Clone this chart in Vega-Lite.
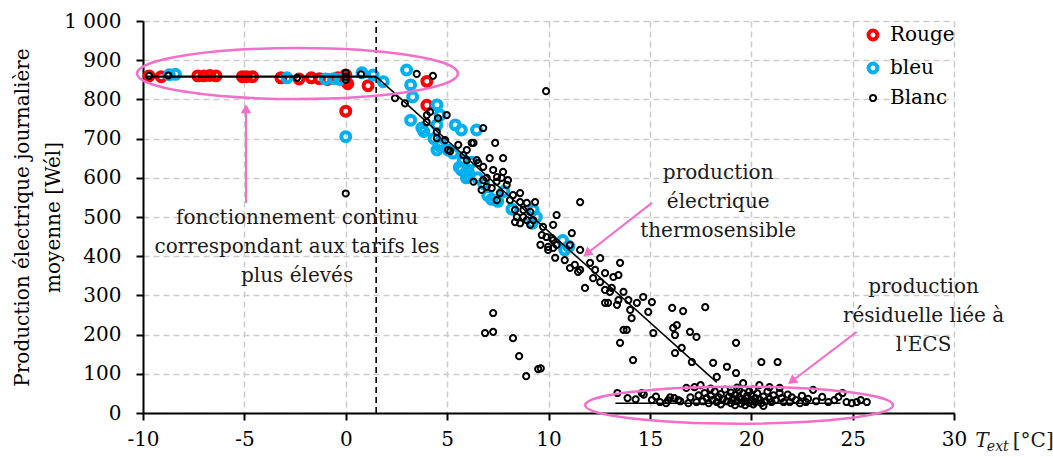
{
  "$schema": "https://vega.github.io/schema/vega-lite/v6.json",
  "width": 811,
  "height": 392,
  "autosize": {"type": "none"},
  "padding": {"left": 143, "top": 21, "right": 99, "bottom": 44},
  "background": "white",
  "config": {
    "view": {"stroke": null},
    "font": "DejaVu Serif",
    "axis": {
      "domainColor": "black", "domainWidth": 2,
      "tickColor": "black", "tickWidth": 2, "tickSize": 7,
      "gridColor": "#cccccc", "gridDash": [6, 4], "gridWidth": 1.5,
      "labelFont": "DejaVu Serif", "labelFontSize": 20, "labelColor": "black",
      "titleFont": "DejaVu Serif", "titleFontSize": 20, "titleFontWeight": "normal", "titleColor": "black",
      "labelPadding": 6, "labelOverlap": false, "labelFlush": false
    },
    "legend": {
      "orient": "none", "legendX": 720, "legendY": 4, "padding": 0,
      "labelFont": "DejaVu Serif", "labelFontSize": 20, "labelColor": "black",
      "rowPadding": 7, "labelOffset": 7, "symbolType": "circle"
    }
  },
  "datasets": {
    "pts": [
      {"serie": "Rouge", "t": -9.7, "p": 860}, {"serie": "Rouge", "t": -9.1, "p": 858},
      {"serie": "Rouge", "t": -7.3, "p": 860}, {"serie": "Rouge", "t": -7.0, "p": 860},
      {"serie": "Rouge", "t": -6.7, "p": 861}, {"serie": "Rouge", "t": -6.4, "p": 860},
      {"serie": "Rouge", "t": -5.1, "p": 858}, {"serie": "Rouge", "t": -4.9, "p": 858},
      {"serie": "Rouge", "t": -4.6, "p": 858}, {"serie": "Rouge", "t": -3.2, "p": 855},
      {"serie": "Rouge", "t": -2.3, "p": 852}, {"serie": "Rouge", "t": -1.7, "p": 855},
      {"serie": "Rouge", "t": -1.3, "p": 853}, {"serie": "Rouge", "t": -0.9, "p": 851},
      {"serie": "Rouge", "t": -0.4, "p": 855}, {"serie": "Rouge", "t": 0, "p": 862},
      {"serie": "Rouge", "t": 0, "p": 848}, {"serie": "Rouge", "t": 0.1, "p": 840},
      {"serie": "Rouge", "t": 1.1, "p": 835}, {"serie": "Rouge", "t": 4.0, "p": 846},
      {"serie": "Rouge", "t": 4.0, "p": 785}, {"serie": "Rouge", "t": 0, "p": 770},
      {"serie": "bleu", "t": -8.7, "p": 863}, {"serie": "bleu", "t": -8.4, "p": 864},
      {"serie": "bleu", "t": -2.9, "p": 855}, {"serie": "bleu", "t": -1.0, "p": 852},
      {"serie": "bleu", "t": -0.6, "p": 853}, {"serie": "bleu", "t": -0.3, "p": 851},
      {"serie": "bleu", "t": 0.8, "p": 868}, {"serie": "bleu", "t": 1.35, "p": 862},
      {"serie": "bleu", "t": 1.85, "p": 845}, {"serie": "bleu", "t": 0, "p": 705},
      {"serie": "bleu", "t": 3.0, "p": 875}, {"serie": "bleu", "t": 3.2, "p": 837},
      {"serie": "bleu", "t": 3.3, "p": 806}, {"serie": "bleu", "t": 3.2, "p": 747},
      {"serie": "bleu", "t": 3.75, "p": 727}, {"serie": "bleu", "t": 3.85, "p": 718},
      {"serie": "bleu", "t": 4.5, "p": 786}, {"serie": "bleu", "t": 4.65, "p": 760},
      {"serie": "bleu", "t": 4.5, "p": 735}, {"serie": "bleu", "t": 5.4, "p": 735},
      {"serie": "bleu", "t": 5.7, "p": 722}, {"serie": "bleu", "t": 6.45, "p": 722},
      {"serie": "bleu", "t": 4.65, "p": 689}, {"serie": "bleu", "t": 5.05, "p": 671},
      {"serie": "bleu", "t": 4.5, "p": 671}, {"serie": "bleu", "t": 5.3, "p": 663},
      {"serie": "bleu", "t": 5.8, "p": 645}, {"serie": "bleu", "t": 5.7, "p": 620},
      {"serie": "bleu", "t": 6.05, "p": 615}, {"serie": "bleu", "t": 5.95, "p": 600},
      {"serie": "bleu", "t": 4.35, "p": 700}, {"serie": "bleu", "t": 4.6, "p": 682},
      {"serie": "bleu", "t": 5.6, "p": 627}, {"serie": "bleu", "t": 6.0, "p": 605},
      {"serie": "bleu", "t": 7.0, "p": 555}, {"serie": "bleu", "t": 7.2, "p": 545},
      {"serie": "bleu", "t": 7.5, "p": 540}, {"serie": "bleu", "t": 6.8, "p": 585},
      {"serie": "bleu", "t": 6.5, "p": 600}, {"serie": "bleu", "t": 9.4, "p": 500},
      {"serie": "bleu", "t": 9.24, "p": 518}, {"serie": "bleu", "t": 10.7, "p": 440},
      {"serie": "bleu", "t": 11.0, "p": 425}, {"serie": "bleu", "t": 10.8, "p": 416},
      {"serie": "bleu", "t": 9.2, "p": 484}, {"serie": "bleu", "t": 8.2, "p": 520},
      {"serie": "bleu", "t": 7.8, "p": 565}, {"serie": "bleu", "t": 6.2, "p": 640},
      {"serie": "Blanc", "t": -9.7, "p": 860}, {"serie": "Blanc", "t": -8.75, "p": 861},
      {"serie": "Blanc", "t": -2.4, "p": 855}, {"serie": "Blanc", "t": 0, "p": 868},
      {"serie": "Blanc", "t": 0, "p": 858}, {"serie": "Blanc", "t": 0, "p": 850},
      {"serie": "Blanc", "t": 0.75, "p": 864}, {"serie": "Blanc", "t": 0, "p": 560},
      {"serie": "Blanc", "t": 3.5, "p": 865}, {"serie": "Blanc", "t": 4.3, "p": 860},
      {"serie": "Blanc", "t": 9.88, "p": 821}, {"serie": "Blanc", "t": 2.43, "p": 803},
      {"serie": "Blanc", "t": 2.92, "p": 790}, {"serie": "Blanc", "t": 4.0, "p": 760},
      {"serie": "Blanc", "t": 4.16, "p": 768}, {"serie": "Blanc", "t": 4.55, "p": 752},
      {"serie": "Blanc", "t": 4.98, "p": 760}, {"serie": "Blanc", "t": 3.99, "p": 742},
      {"serie": "Blanc", "t": 4.49, "p": 717}, {"serie": "Blanc", "t": 4.49, "p": 701},
      {"serie": "Blanc", "t": 4.9, "p": 696}, {"serie": "Blanc", "t": 5.05, "p": 671},
      {"serie": "Blanc", "t": 5.55, "p": 684}, {"serie": "Blanc", "t": 5.97, "p": 671},
      {"serie": "Blanc", "t": 6.3, "p": 689}, {"serie": "Blanc", "t": 6.78, "p": 727},
      {"serie": "Blanc", "t": 7.37, "p": 689}, {"serie": "Blanc", "t": 5.97, "p": 645},
      {"serie": "Blanc", "t": 6.46, "p": 645}, {"serie": "Blanc", "t": 7.1, "p": 650},
      {"serie": "Blanc", "t": 7.76, "p": 650}, {"serie": "Blanc", "t": 6.78, "p": 628},
      {"serie": "Blanc", "t": 7.27, "p": 620}, {"serie": "Blanc", "t": 7.69, "p": 600},
      {"serie": "Blanc", "t": 6.3, "p": 590}, {"serie": "Blanc", "t": 6.95, "p": 600},
      {"serie": "Blanc", "t": 7.44, "p": 590}, {"serie": "Blanc", "t": 6.95, "p": 577},
      {"serie": "Blanc", "t": 6.21, "p": 689}, {"serie": "Blanc", "t": 5.15, "p": 668},
      {"serie": "Blanc", "t": 5.8, "p": 658}, {"serie": "Blanc", "t": 6.54, "p": 638},
      {"serie": "Blanc", "t": 7.76, "p": 615}, {"serie": "Blanc", "t": 6.78, "p": 594},
      {"serie": "Blanc", "t": 7.46, "p": 602}, {"serie": "Blanc", "t": 8.0, "p": 594},
      {"serie": "Blanc", "t": 7.94, "p": 582}, {"serie": "Blanc", "t": 6.7, "p": 569},
      {"serie": "Blanc", "t": 7.2, "p": 574}, {"serie": "Blanc", "t": 7.6, "p": 561},
      {"serie": "Blanc", "t": 8.25, "p": 556}, {"serie": "Blanc", "t": 8.6, "p": 561},
      {"serie": "Blanc", "t": 7.45, "p": 543}, {"serie": "Blanc", "t": 8.1, "p": 543},
      {"serie": "Blanc", "t": 8.6, "p": 538}, {"serie": "Blanc", "t": 8.93, "p": 536},
      {"serie": "Blanc", "t": 9.34, "p": 538}, {"serie": "Blanc", "t": 8.35, "p": 518},
      {"serie": "Blanc", "t": 8.76, "p": 518}, {"serie": "Blanc", "t": 9.1, "p": 513},
      {"serie": "Blanc", "t": 8.44, "p": 500}, {"serie": "Blanc", "t": 8.76, "p": 500},
      {"serie": "Blanc", "t": 8.35, "p": 487}, {"serie": "Blanc", "t": 8.93, "p": 492},
      {"serie": "Blanc", "t": 9.24, "p": 492}, {"serie": "Blanc", "t": 8.6, "p": 484},
      {"serie": "Blanc", "t": 9.1, "p": 480}, {"serie": "Blanc", "t": 10.4, "p": 505},
      {"serie": "Blanc", "t": 10.23, "p": 480}, {"serie": "Blanc", "t": 9.73, "p": 475},
      {"serie": "Blanc", "t": 9.67, "p": 454}, {"serie": "Blanc", "t": 9.9, "p": 449},
      {"serie": "Blanc", "t": 10.23, "p": 441}, {"serie": "Blanc", "t": 9.6, "p": 429},
      {"serie": "Blanc", "t": 9.98, "p": 424}, {"serie": "Blanc", "t": 10.4, "p": 429},
      {"serie": "Blanc", "t": 11.15, "p": 459}, {"serie": "Blanc", "t": 10.33, "p": 396},
      {"serie": "Blanc", "t": 10.8, "p": 390}, {"serie": "Blanc", "t": 11.56, "p": 416},
      {"serie": "Blanc", "t": 11.3, "p": 378}, {"serie": "Blanc", "t": 11.56, "p": 365},
      {"serie": "Blanc", "t": 12.05, "p": 383}, {"serie": "Blanc", "t": 11.56, "p": 538},
      {"serie": "Blanc", "t": 10.16, "p": 446}, {"serie": "Blanc", "t": 10.23, "p": 421},
      {"serie": "Blanc", "t": 9.98, "p": 416}, {"serie": "Blanc", "t": 11.06, "p": 429},
      {"serie": "Blanc", "t": 11.06, "p": 370}, {"serie": "Blanc", "t": 11.46, "p": 360},
      {"serie": "Blanc", "t": 12.55, "p": 395}, {"serie": "Blanc", "t": 12.3, "p": 365},
      {"serie": "Blanc", "t": 12.79, "p": 357}, {"serie": "Blanc", "t": 13.53, "p": 383},
      {"serie": "Blanc", "t": 13.2, "p": 347}, {"serie": "Blanc", "t": 13.45, "p": 352},
      {"serie": "Blanc", "t": 12.2, "p": 344}, {"serie": "Blanc", "t": 12.55, "p": 334},
      {"serie": "Blanc", "t": 11.8, "p": 319}, {"serie": "Blanc", "t": 12.79, "p": 314},
      {"serie": "Blanc", "t": 13.12, "p": 319}, {"serie": "Blanc", "t": 13.03, "p": 309},
      {"serie": "Blanc", "t": 13.7, "p": 309}, {"serie": "Blanc", "t": 13.45, "p": 288},
      {"serie": "Blanc", "t": 13.94, "p": 288}, {"serie": "Blanc", "t": 12.79, "p": 281},
      {"serie": "Blanc", "t": 12.94, "p": 281}, {"serie": "Blanc", "t": 14.36, "p": 281},
      {"serie": "Blanc", "t": 14.67, "p": 296}, {"serie": "Blanc", "t": 15.1, "p": 283},
      {"serie": "Blanc", "t": 13.38, "p": 276}, {"serie": "Blanc", "t": 14.03, "p": 263},
      {"serie": "Blanc", "t": 14.1, "p": 242}, {"serie": "Blanc", "t": 14.92, "p": 258},
      {"serie": "Blanc", "t": 16.1, "p": 268}, {"serie": "Blanc", "t": 16.64, "p": 260},
      {"serie": "Blanc", "t": 17.73, "p": 270}, {"serie": "Blanc", "t": 13.86, "p": 212},
      {"serie": "Blanc", "t": 13.7, "p": 212}, {"serie": "Blanc", "t": 16.15, "p": 217},
      {"serie": "Blanc", "t": 16.33, "p": 224}, {"serie": "Blanc", "t": 15.17, "p": 204},
      {"serie": "Blanc", "t": 16.24, "p": 199}, {"serie": "Blanc", "t": 16.98, "p": 207},
      {"serie": "Blanc", "t": 17.3, "p": 194}, {"serie": "Blanc", "t": 13.53, "p": 179},
      {"serie": "Blanc", "t": 16.57, "p": 166}, {"serie": "Blanc", "t": 16.24, "p": 153},
      {"serie": "Blanc", "t": 14.17, "p": 135}, {"serie": "Blanc", "t": 17.07, "p": 130},
      {"serie": "Blanc", "t": 18.12, "p": 128}, {"serie": "Blanc", "t": 7.27, "p": 255},
      {"serie": "Blanc", "t": 6.87, "p": 204}, {"serie": "Blanc", "t": 7.27, "p": 207},
      {"serie": "Blanc", "t": 8.25, "p": 191}, {"serie": "Blanc", "t": 8.55, "p": 145},
      {"serie": "Blanc", "t": 8.9, "p": 94}, {"serie": "Blanc", "t": 9.49, "p": 112},
      {"serie": "Blanc", "t": 9.62, "p": 114}, {"serie": "Blanc", "t": 18.8, "p": 118},
      {"serie": "Blanc", "t": 19.25, "p": 102}, {"serie": "Blanc", "t": 18.3, "p": 92},
      {"serie": "Blanc", "t": 20.5, "p": 130}, {"serie": "Blanc", "t": 21.3, "p": 130},
      {"serie": "Blanc", "t": 19.25, "p": 179},
      {"serie": "Blanc", "t": 13.4, "p": 51}, {"serie": "Blanc", "t": 13.9, "p": 38},
      {"serie": "Blanc", "t": 14.6, "p": 51}, {"serie": "Blanc", "t": 14.7, "p": 47},
      {"serie": "Blanc", "t": 15.1, "p": 33}, {"serie": "Blanc", "t": 15.5, "p": 28},
      {"serie": "Blanc", "t": 15.8, "p": 25}, {"serie": "Blanc", "t": 15.9, "p": 32},
      {"serie": "Blanc", "t": 16.2, "p": 38}, {"serie": "Blanc", "t": 16.4, "p": 33},
      {"serie": "Blanc", "t": 16.5, "p": 30}, {"serie": "Blanc", "t": 16.9, "p": 25},
      {"serie": "Blanc", "t": 16.8, "p": 64}, {"serie": "Blanc", "t": 17.2, "p": 66},
      {"serie": "Blanc", "t": 17.5, "p": 71}, {"serie": "Blanc", "t": 17.4, "p": 45},
      {"serie": "Blanc", "t": 17.6, "p": 30}, {"serie": "Blanc", "t": 17.7, "p": 51},
      {"serie": "Blanc", "t": 17.8, "p": 38}, {"serie": "Blanc", "t": 17.9, "p": 25},
      {"serie": "Blanc", "t": 18.0, "p": 44}, {"serie": "Blanc", "t": 18.1, "p": 33},
      {"serie": "Blanc", "t": 18.2, "p": 55}, {"serie": "Blanc", "t": 18.3, "p": 28},
      {"serie": "Blanc", "t": 18.4, "p": 40}, {"serie": "Blanc", "t": 18.5, "p": 22},
      {"serie": "Blanc", "t": 18.5, "p": 48}, {"serie": "Blanc", "t": 18.6, "p": 35},
      {"serie": "Blanc", "t": 18.7, "p": 60}, {"serie": "Blanc", "t": 18.8, "p": 30},
      {"serie": "Blanc", "t": 18.9, "p": 42}, {"serie": "Blanc", "t": 19.0, "p": 25},
      {"serie": "Blanc", "t": 19.0, "p": 52}, {"serie": "Blanc", "t": 19.1, "p": 36},
      {"serie": "Blanc", "t": 19.2, "p": 20}, {"serie": "Blanc", "t": 19.2, "p": 46},
      {"serie": "Blanc", "t": 19.3, "p": 30}, {"serie": "Blanc", "t": 19.4, "p": 58},
      {"serie": "Blanc", "t": 19.4, "p": 40}, {"serie": "Blanc", "t": 19.5, "p": 24},
      {"serie": "Blanc", "t": 19.5, "p": 35}, {"serie": "Blanc", "t": 19.6, "p": 76},
      {"serie": "Blanc", "t": 19.6, "p": 50}, {"serie": "Blanc", "t": 19.7, "p": 30},
      {"serie": "Blanc", "t": 19.7, "p": 20}, {"serie": "Blanc", "t": 19.8, "p": 44},
      {"serie": "Blanc", "t": 19.8, "p": 38}, {"serie": "Blanc", "t": 19.9, "p": 26},
      {"serie": "Blanc", "t": 19.9, "p": 55}, {"serie": "Blanc", "t": 20.0, "p": 33},
      {"serie": "Blanc", "t": 20.0, "p": 45}, {"serie": "Blanc", "t": 20.1, "p": 22},
      {"serie": "Blanc", "t": 20.1, "p": 60}, {"serie": "Blanc", "t": 20.2, "p": 38},
      {"serie": "Blanc", "t": 20.2, "p": 28}, {"serie": "Blanc", "t": 20.3, "p": 50},
      {"serie": "Blanc", "t": 20.4, "p": 71}, {"serie": "Blanc", "t": 20.4, "p": 35},
      {"serie": "Blanc", "t": 20.5, "p": 25}, {"serie": "Blanc", "t": 20.6, "p": 42},
      {"serie": "Blanc", "t": 20.7, "p": 30}, {"serie": "Blanc", "t": 20.8, "p": 55},
      {"serie": "Blanc", "t": 20.9, "p": 66}, {"serie": "Blanc", "t": 20.9, "p": 36},
      {"serie": "Blanc", "t": 21.0, "p": 28}, {"serie": "Blanc", "t": 21.1, "p": 45},
      {"serie": "Blanc", "t": 21.2, "p": 33}, {"serie": "Blanc", "t": 21.4, "p": 64},
      {"serie": "Blanc", "t": 21.4, "p": 51}, {"serie": "Blanc", "t": 21.5, "p": 38},
      {"serie": "Blanc", "t": 21.6, "p": 28}, {"serie": "Blanc", "t": 21.9, "p": 28},
      {"serie": "Blanc", "t": 22.0, "p": 40}, {"serie": "Blanc", "t": 22.2, "p": 33},
      {"serie": "Blanc", "t": 22.4, "p": 25}, {"serie": "Blanc", "t": 22.7, "p": 28},
      {"serie": "Blanc", "t": 22.8, "p": 36}, {"serie": "Blanc", "t": 23.05, "p": 59},
      {"serie": "Blanc", "t": 23.2, "p": 30}, {"serie": "Blanc", "t": 23.5, "p": 41},
      {"serie": "Blanc", "t": 23.8, "p": 28}, {"serie": "Blanc", "t": 24.1, "p": 33},
      {"serie": "Blanc", "t": 24.3, "p": 41}, {"serie": "Blanc", "t": 24.5, "p": 51},
      {"serie": "Blanc", "t": 24.7, "p": 28}, {"serie": "Blanc", "t": 24.96, "p": 25},
      {"serie": "Blanc", "t": 25.2, "p": 28}, {"serie": "Blanc", "t": 25.4, "p": 33},
      {"serie": "Blanc", "t": 25.7, "p": 28}, {"serie": "Blanc", "t": 16.0, "p": 40},
      {"serie": "Blanc", "t": 15.3, "p": 42}, {"serie": "Blanc", "t": 14.3, "p": 35},
      {"serie": "Blanc", "t": 17.0, "p": 40}, {"serie": "Blanc", "t": 18.0, "p": 62},
      {"serie": "Blanc", "t": 17.3, "p": 28}, {"serie": "Blanc", "t": 19.3, "p": 65},
      {"serie": "Blanc", "t": 20.6, "p": 18}, {"serie": "Blanc", "t": 21.8, "p": 47},
      {"serie": "Blanc", "t": 22.5, "p": 44}
    ],
    "plateau": [{"t": -9.9, "p": 858, "t2": 1.5, "p2": 858}],
    "segs": [
      {"t": 1.5, "p": 858, "t2": 18.3, "p2": 78},
      {"t": 13.3, "p": 25, "t2": 24.4, "p2": 25}
    ],
    "seuil": [{"t": 1.5, "p": 0, "p2": 1000}],
    "arrows": [
      {"t": -4.92, "p": 536, "t2": -4.92, "p2": 780},
      {"t": 15.1, "p": 536, "t2": 11.8, "p2": 403},
      {"t": 25.2, "p": 207, "t2": 21.9, "p2": 77}
    ],
    "headUp": [{"t": -4.92, "p": 776}],
    "headDiag": [{"t": 11.9, "p": 407}, {"t": 22.0, "p": 81}],
    "ell1": [{"t": -2.38, "p": 866}],
    "ell2": [{"t": 19.4, "p": 20}],
    "notes": [
      {"t": -2.4, "p": 523, "txt": "fonctionnement continu\ncorrespondant aux tarifs les\nplus élevés"},
      {"t": 18.37, "p": 638, "txt": "production\nélectrique\nthermosensible"},
      {"t": 28.5, "p": 347, "txt": "production\nrésiduelle liée à\nl'ECS"}
    ],
    "tT": [{"t": 31.05, "p": -71, "txt": "T"}],
    "tExt": [{"t": 31.62, "p": -86, "txt": "ext"}],
    "tUnit": [{"t": 32.9, "p": -71, "txt": "[°C]"}]
  },
  "encoding": {
    "x": {
      "field": "t", "type": "quantitative",
      "scale": {"domain": [-10, 30], "nice": false, "zero": false},
      "axis": {
        "title": null, "values": [-10, -5, 0, 5, 10, 15, 20, 25, 30],
        "labelPadding": 9,
        "labelExpr": "datum.value < 0 ? '-' + (-datum.value) : datum.label"
      }
    },
    "y": {
      "field": "p", "type": "quantitative",
      "scale": {"domain": [0, 1000], "nice": false},
      "axis": {
        "title": ["Production électrique journalière", "moyenne [Wél]"],
        "titleLineHeight": 31, "titlePadding": 0, "labelPadding": 15,
        "values": [0, 100, 200, 300, 400, 500, 600, 700, 800, 900, 1000],
        "labelExpr": "datum.value === 1000 ? '1 000' : datum.label"
      }
    }
  },
  "layer": [
    {
      "data": {"name": "pts"},
      "mark": {"type": "point", "shape": "circle", "filled": false, "opacity": 1},
      "encoding": {
        "color": {
          "field": "serie", "type": "nominal", "title": null,
          "scale": {"domain": ["Rouge", "bleu", "Blanc"], "range": ["#FF0000", "#00B0F0", "#000000"]}
        },
        "size": {
          "field": "serie", "type": "nominal", "title": null,
          "scale": {"type": "ordinal", "domain": ["Rouge", "bleu", "Blanc"], "range": [80, 80, 38]}
        },
        "strokeWidth": {
          "field": "serie", "type": "nominal", "title": null,
          "scale": {"type": "ordinal", "domain": ["Rouge", "bleu", "Blanc"], "range": [4, 4, 2]}
        }
      }
    },
    {
      "data": {"name": "plateau"},
      "mark": {"type": "rule", "color": "black", "strokeWidth": 2.2},
      "encoding": {"x2": {"field": "t2"}, "y2": {"field": "p2"}}
    },
    {
      "data": {"name": "segs"},
      "mark": {"type": "rule", "color": "black", "strokeWidth": 1.5},
      "encoding": {"x2": {"field": "t2"}, "y2": {"field": "p2"}}
    },
    {
      "data": {"name": "seuil"},
      "mark": {"type": "rule", "color": "black", "strokeWidth": 1.6, "strokeDash": [6, 4]},
      "encoding": {"y2": {"field": "p2"}}
    },
    {
      "data": {"name": "ell1"},
      "mark": {"type": "point", "shape": "M -1 0 A 1 0.159 0 1 1 1 0 A 1 0.159 0 1 1 -1 0 Z", "filled": false, "stroke": "#F46FC9", "strokeWidth": 2.5, "size": 103041, "opacity": 1}
    },
    {
      "data": {"name": "ell2"},
      "mark": {"type": "point", "shape": "M -1 0 A 1 0.12 0 1 1 1 0 A 1 0.12 0 1 1 -1 0 Z", "filled": false, "stroke": "#F46FC9", "strokeWidth": 2.5, "size": 94864, "opacity": 1}
    },
    {
      "data": {"name": "arrows"},
      "mark": {"type": "rule", "color": "#F46FC9", "strokeWidth": 2},
      "encoding": {"x2": {"field": "t2"}, "y2": {"field": "p2"}}
    },
    {
      "data": {"name": "headUp"},
      "mark": {"type": "point", "shape": "triangle-up", "filled": true, "color": "#F46FC9", "size": 110, "opacity": 1, "angle": 0}
    },
    {
      "data": {"name": "headDiag"},
      "mark": {"type": "point", "shape": "triangle-up", "filled": true, "color": "#F46FC9", "size": 110, "opacity": 1, "angle": 232}
    },
    {
      "data": {"name": "notes"},
      "mark": {"type": "text", "font": "DejaVu Serif", "fontSize": 20, "color": "#1a1a1a", "align": "center", "baseline": "top", "lineBreak": "\n", "lineHeight": 29},
      "encoding": {"text": {"field": "txt"}}
    },
    {
      "data": {"name": "tT"},
      "mark": {"type": "text", "font": "DejaVu Serif", "fontSize": 20, "fontStyle": "italic", "color": "#1a1a1a", "align": "left", "baseline": "middle"},
      "encoding": {"text": {"field": "txt"}}
    },
    {
      "data": {"name": "tExt"},
      "mark": {"type": "text", "font": "DejaVu Serif", "fontSize": 14, "fontStyle": "italic", "color": "#1a1a1a", "align": "left", "baseline": "middle"},
      "encoding": {"text": {"field": "txt"}}
    },
    {
      "data": {"name": "tUnit"},
      "mark": {"type": "text", "font": "DejaVu Serif", "fontSize": 20, "color": "#1a1a1a", "align": "left", "baseline": "middle"},
      "encoding": {"text": {"field": "txt"}}
    }
  ]
}
